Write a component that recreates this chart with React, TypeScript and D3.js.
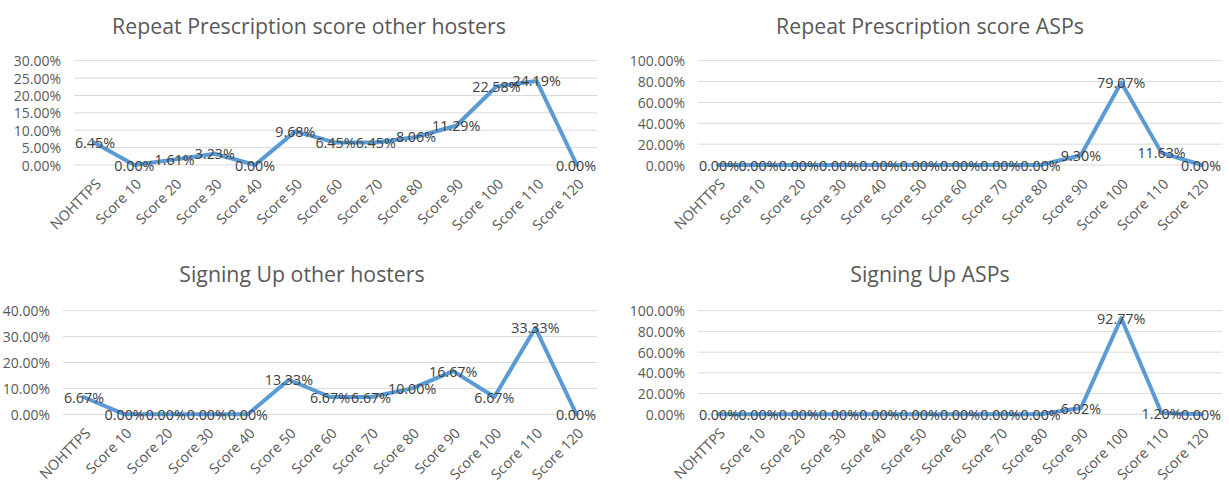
import React from 'react';
import * as d3 from 'd3';

const categories = [
  'NOHTTPS', 'Score 10', 'Score 20', 'Score 30', 'Score 40', 'Score 50', 'Score 60',
  'Score 70', 'Score 80', 'Score 90', 'Score 100', 'Score 110', 'Score 120',
];

// values in percent
const repeatOther = [6.45, 0, 1.61, 3.23, 0, 9.68, 6.45, 6.45, 8.06, 11.29, 22.58, 24.19, 0];
const repeatAsp = [0, 0, 0, 0, 0, 0, 0, 0, 0, 9.3, 79.07, 11.63, 0];
const signOther = [6.67, 0, 0, 0, 0, 13.33, 6.67, 6.67, 10.0, 16.67, 6.67, 33.33, 0];
const signAsp = [0, 0, 0, 0, 0, 0, 0, 0, 0, 6.02, 92.77, 1.2, 0];

const ticks30 = [0, 5, 10, 15, 20, 25, 30];
const ticks100 = [0, 20, 40, 60, 80, 100];
const ticks40 = [0, 10, 20, 30, 40];

const FONT = "'Open Sans', sans-serif";

type Panel = {
  title: string;
  values: number[];
  ticks: number[];
  left: number;
  right: number;
  top: number;
  bottom: number;
  titleX: number;
  titleY: number;
};

const panels: Panel[] = [
  { title: 'Repeat Prescription score other hosters', values: repeatOther, ticks: ticks30,
    left: 74, right: 597, top: 60.7, bottom: 165, titleX: 309, titleY: 25 },
  { title: 'Repeat Prescription score ASPs', values: repeatAsp, ticks: ticks100,
    left: 698, right: 1222, top: 60.7, bottom: 165, titleX: 930, titleY: 25 },
  { title: 'Signing Up other hosters', values: signOther, ticks: ticks40,
    left: 63, right: 597, top: 310.7, bottom: 414.3, titleX: 302, titleY: 273 },
  { title: 'Signing Up ASPs', values: signAsp, ticks: ticks100,
    left: 698, right: 1222, top: 310.7, bottom: 414.3, titleX: 930, titleY: 273 },
];

function LinePanel({ p }: { p: Panel }) {
  const x = d3.scaleBand().domain(categories).range([p.left, p.right]);
  const y = d3
    .scaleLinear()
    .domain([0, d3.max(p.ticks) as number])
    .range([p.bottom, p.top]);
  const cx = (c: string) => (x(c) as number) + x.bandwidth() / 2;

  const line = d3
    .line<number>()
    .x((_, i) => cx(categories[i]))
    .y((d) => y(d));

  return (
    <g>
      <text
        x={p.titleX}
        y={p.titleY}
        textAnchor="middle"
        dominantBaseline="central"
        fontSize={21.3}
        fill="#595959"
      >
        {p.title}
      </text>

      {/* gridlines + y labels */}
      {p.ticks.map((t) => (
        <g key={t}>
          <line x1={p.left} x2={p.right} y1={y(t)} y2={y(t)} stroke="#d9d9d9" strokeWidth={1} />
          <text
            x={p.left - 13}
            y={y(t)}
            textAnchor="end"
            dominantBaseline="central"
            fontSize={14}
            fill="#595959"
          >
            {t.toFixed(2)}%
          </text>
        </g>
      ))}

      {/* x labels */}
      {categories.map((c) => (
        <text
          key={c}
          transform={`translate(${cx(c) + 4},${p.bottom + 16}) rotate(-45)`}
          textAnchor="end"
          dominantBaseline="central"
          fontSize={14.3}
          fill="#595959"
        >
          {c}
        </text>
      ))}

      <path
        d={line(p.values) as string}
        fill="none"
        stroke="#5b9bd5"
        strokeWidth={4}
        strokeLinejoin="round"
        strokeLinecap="round"
      />

      {/* data labels, centred on the points, kept inside the plot */}
      {p.values.map((v, i) => {
        const half = 21;
        let lx = cx(categories[i]);
        lx = Math.max(p.left + half, Math.min(p.right - half, lx));
        return (
          <text
            key={i}
            x={lx}
            y={y(v)}
            textAnchor="middle"
            dominantBaseline="central"
            fontSize={14.3}
            fill="#404040"
          >
            {v.toFixed(2)}%
          </text>
        );
      })}
    </g>
  );
}

export default function App() {
  return (
    <svg
      width={1229}
      height={481}
      style={{ position: 'absolute', left: 0, top: 0, background: '#fff' }}
      fontFamily={FONT}
    >
      <rect width={1229} height={481} fill="#fff" />
      {panels.map((p) => (
        <LinePanel key={p.title} p={p} />
      ))}
    </svg>
  );
}
